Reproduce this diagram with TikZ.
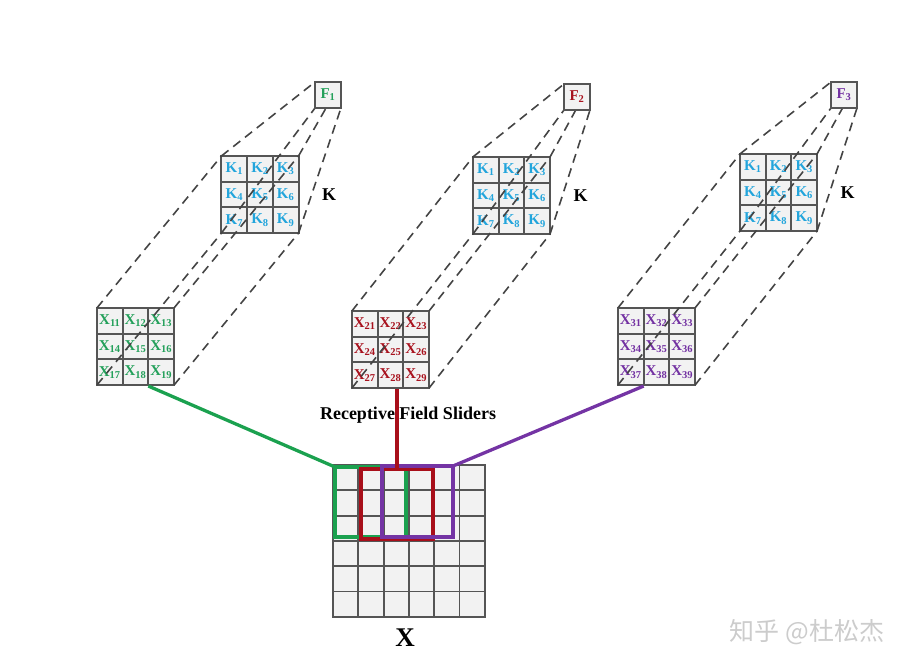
\documentclass[tikz,border=0pt]{standalone}
\usepackage{fontspec}
\setmainfont{Liberation Serif}
\newfontfamily\cjk{Noto Sans CJK SC}
\usetikzlibrary{positioning}
\definecolor{cellfill}{HTML}{F2F2F2}
\definecolor{gridline}{HTML}{555555}
\definecolor{wireline}{HTML}{444444}
\definecolor{kblue}{HTML}{22A5DC}
\definecolor{xgreen}{HTML}{23A05A}
\definecolor{xred}{HTML}{A8121E}
\definecolor{xpurple}{HTML}{7331A2}
\definecolor{sgreen}{HTML}{1BA14F}
\definecolor{sred}{HTML}{A80F1A}
\definecolor{spurple}{HTML}{7434A4}

\begin{document}
\begin{tikzpicture}[x=1pt, y=-1pt,
  cell/.style={draw=gridline, line width=2pt, fill=cellfill, minimum size=25.7pt, inner sep=0pt, font=\fontsize{15}{15}\selectfont\bfseries},
  bigcell/.style={draw=gridline, line width=1.8pt, fill=cellfill, minimum size=25.3pt, inner sep=0pt},
  patch/.style={minimum size=77.1pt, inner sep=0pt, outer sep=0pt},
  fpatch/.style={minimum size=26pt, inner sep=0pt, outer sep=0pt},
  fcell/.style={cell, minimum size=26pt},
  wire/.style={draw=wireline, line width=1.6pt, dash pattern=on 9pt off 6pt},
  slider/.style={line width=3.3pt, inner sep=0pt, outer sep=0pt},
  link/.style={line width=3.3pt},
  klabel/.style={font=\fontsize{18}{18}\selectfont\bfseries}]
\useasboundingbox (0,0) rectangle (915,666);
% input X
\foreach \rr in {0,...,5}
  \foreach \cc in {0,...,5}
    \node[bigcell] (g\rr\cc) at ({345.65+\cc*25.3},{477.65+\rr*25.3}) {};
\node[patch, minimum size=151.8pt] (xg) at (409,541) {};
\node[font=\fontsize{27}{27}\selectfont\bfseries] (xlabel) at (405,638) {X};
% patches, kernels and outputs
\foreach \g/\xx/\xy/\kx/\ky/\fx/\fy/\clr in
  {1/135.5/346.5/260/194.5/328/95/xgreen,
   2/390.5/349.5/511.5/195.5/577/97/xred,
   3/656.5/346.5/778.5/192.5/844/95/xpurple}
{
  \foreach \i in {1,...,9} {
    \pgfmathtruncatemacro\cc{mod(\i-1,3)}
    \pgfmathtruncatemacro\rr{(\i-1)/3}
    \node[cell, text=\clr] (x\g-\i) at ({\xx+(\cc-1)*25.7},{\xy+(\rr-1)*25.7}) {X\textsubscript{\g\i}};
    \node[cell, text=kblue] (k\g-\i) at ({\kx+(\cc-1)*25.7},{\ky+(\rr-1)*25.7}) {K\textsubscript{\i}};
  }
  \node[patch] (x\g) at (\xx,\xy) {};
  \node[patch] (k\g) at (\kx,\ky) {};
  \node[fpatch] (fp\g) at (\fx,\fy) {};
  \node[klabel, right=20pt of k\g] (kl\g) {K};
  % wire frame
  \foreach \a in {north west,north east,south west,south east}
    \draw[wire] (x\g.\a) -- (k\g.\a) (k\g.\a) -- (fp\g.\a);
  \node[fcell, text=\clr] (f\g) at (fp\g) {F\textsubscript{\g}};
}
% sliders
\node[slider, draw=sgreen, minimum width=71pt, minimum height=70pt] (s1) at (370.5,502) {};
\node[slider, draw=sred, minimum width=72pt, minimum height=70pt] (s2) at (397,504) {};
\node[slider, draw=spurple, minimum width=71pt, minimum height=71pt] (s3) at (417.5,501.5) {};
\draw[link, sgreen] ([xshift=-1pt]x1-8.south east) -- (s1.north west);
\draw[link, sred] (s2.north |- x2-8.south) -- (s2.north);
\draw[link, spurple] ([xshift=1pt]x3-8.south west) -- (s3.north east);
\node[font=\fontsize{18}{18}\selectfont\bfseries] (rfs) at (408,415) {Receptive Field Sliders};
% watermark
\node[font=\cjk\fontsize{25}{25}\selectfont, text=gray!40] (mark) at (807,632) {知乎 @杜松杰};
\end{tikzpicture}
\end{document}
